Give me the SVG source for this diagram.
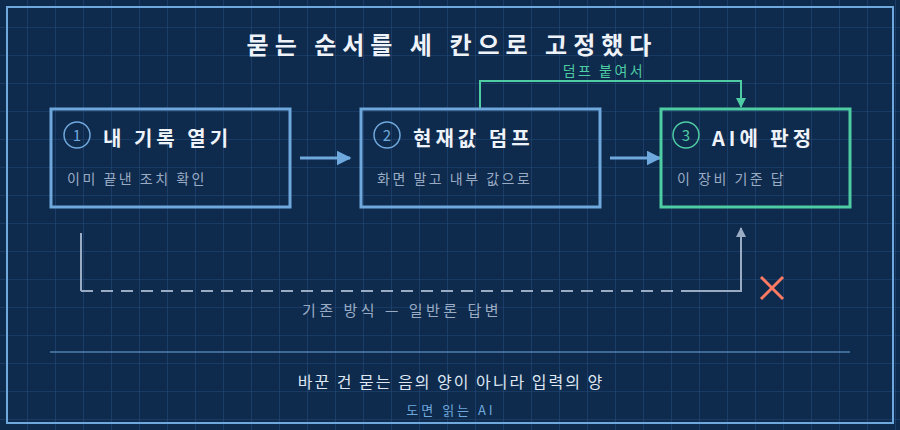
<svg xmlns="http://www.w3.org/2000/svg" width="900" height="430" viewBox="0 0 900 430">
<defs>
<pattern id="g" width="28" height="28" patternUnits="userSpaceOnUse"><path d="M28 0V28M0 28H28" fill="none" stroke="#24497a" stroke-width="1.2"/></pattern>
<marker id="ab" viewBox="0 0 10 10" refX="9" refY="5" markerWidth="5" markerHeight="5" orient="auto"><path d="M0 0L10 5L0 10z" fill="#6fa8dc"/></marker>
<marker id="ag" viewBox="0 0 10 10" refX="9" refY="5" markerWidth="5" markerHeight="5" orient="auto"><path d="M0 0L10 5L0 10z" fill="#4ecca3"/></marker>
<marker id="ay" viewBox="0 0 10 10" refX="9" refY="5" markerWidth="5" markerHeight="5" orient="auto"><path d="M0 0L10 5L0 10z" fill="#9aacc4"/></marker>
</defs>
<style>
text{font-family:"Noto Sans CJK KR","Noto Sans",sans-serif}
.box{fill:none;stroke:#6fa8dc;stroke-width:3}
.t{fill:#eef3fa;font-size:20px;font-weight:bold;letter-spacing:4px}
.s{fill:#9aacc4;font-size:14px;letter-spacing:2.5px}
.n{fill:#6fa8dc;font-size:15px;text-anchor:middle}
</style>
<rect width="900" height="430" fill="#0e2a4d"/>
<rect width="900" height="430" fill="url(#g)"/>
<rect x="7" y="7" width="886" height="416" fill="none" stroke="#6fa8dc" stroke-width="2"/>
<text x="452" y="54" text-anchor="middle" fill="#eef3fa" font-size="24" font-weight="bold" letter-spacing="6">묻는 순서를 세 칸으로 고정했다</text>
<g id="connectors">
<line x1="300" y1="158" x2="350" y2="158" stroke="#6fa8dc" stroke-width="3" marker-end="url(#ab)"/>
<line x1="610" y1="158" x2="660" y2="158" stroke="#6fa8dc" stroke-width="3" marker-end="url(#ab)"/>
<path d="M480 109V81H741V107" fill="none" stroke="#4ecca3" stroke-width="2" marker-end="url(#ag)"/>
<text x="604" y="76" text-anchor="middle" fill="#4ecca3" font-size="14" letter-spacing="2.5">덤프 붙여서</text>
<path d="M81 233V291" fill="none" stroke="#9aacc4" stroke-width="2"/>
<path d="M81 291H690" fill="none" stroke="#9aacc4" stroke-width="2" stroke-dasharray="12 8"/>
<path d="M690 291H741V228" fill="none" stroke="#9aacc4" stroke-width="2" marker-end="url(#ay)"/>
<path d="M761 277L783 299M783 277L761 299" stroke="#ff7a63" stroke-width="3"/>
<text x="402" y="316" text-anchor="middle" fill="#9aacc4" font-size="15" letter-spacing="3.5">기존 방식 — 일반론 답변</text>
</g>
<g id="n1">
<rect class="box" x="51" y="109" width="239" height="98"/>
<circle cx="77" cy="135" r="13" fill="none" stroke="#6fa8dc" stroke-width="1.5"/>
<text class="n" x="77" y="141">1</text>
<text class="t" x="103" y="146">내 기록 열기</text>
<text class="s" x="67" y="184">이미 끝낸 조치 확인</text>
</g>
<g id="n2">
<rect class="box" x="361" y="109" width="239" height="98"/>
<circle cx="387" cy="135" r="13" fill="none" stroke="#6fa8dc" stroke-width="1.5"/>
<text class="n" x="387" y="141">2</text>
<text class="t" x="413" y="146">현재값 덤프</text>
<text class="s" x="377" y="184">화면 말고 내부 값으로</text>
</g>
<g id="n3">
<rect class="box" x="661" y="109" width="189" height="98" style="stroke:#4ecca3"/>
<circle cx="686" cy="135" r="13" fill="none" stroke="#4ecca3" stroke-width="1.5"/>
<text class="n" x="686" y="141" style="fill:#4ecca3">3</text>
<text class="t" x="712" y="146">AI에 판정</text>
<text class="s" x="677" y="184">이 장비 기준 답</text>
</g>
<line x1="50" y1="352" x2="850" y2="352" stroke="#6fa8dc" stroke-width="1"/>
<text x="451" y="388" text-anchor="middle" fill="#dfe7f2" font-size="16" letter-spacing="2">바꾼 건 묻는 음의 양이 아니라 입력의 양</text>
<text x="451" y="415" text-anchor="middle" fill="#6fa8dc" font-size="13" letter-spacing="3">도면 읽는 AI</text>
</svg>
